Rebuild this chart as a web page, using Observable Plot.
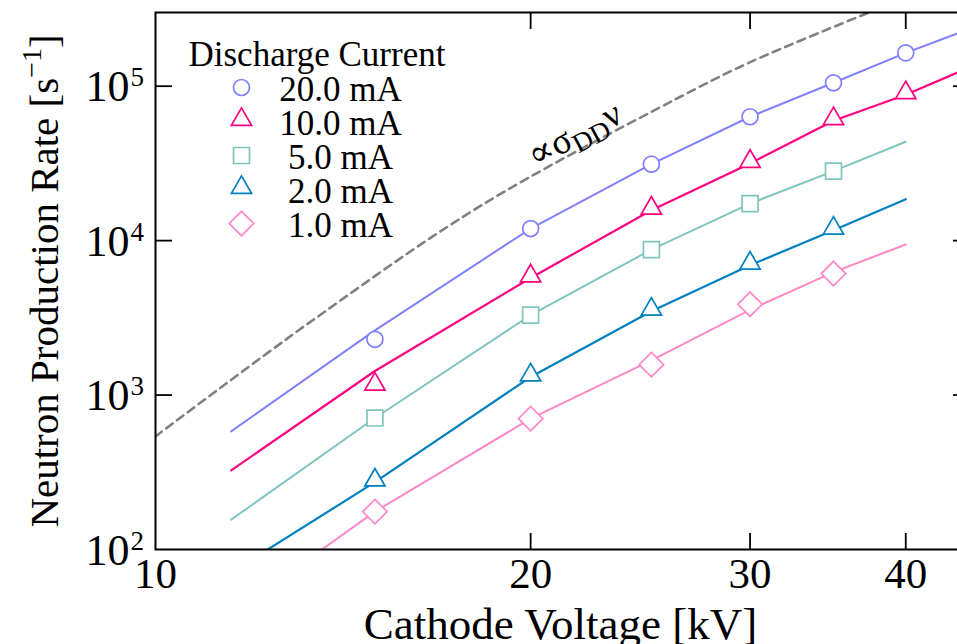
<!DOCTYPE html>
<html>
<head>
<meta charset="utf-8">
<script src="https://cdn.jsdelivr.net/npm/d3@7"></script>
<script src="https://cdn.jsdelivr.net/npm/@observablehq/plot@0.6"></script>
<style>
html, body { margin: 0; padding: 0; background: #ffffff; overflow: hidden; }
</style>
</head>
<body>
<div id="chart"></div>
<script>
// ---- data ----
const markerVoltages = [15, 20, 25, 30, 35, 40];          // kV
const lineVoltages   = [11.5, 15, 20, 25, 30, 35, 40, 45]; // kV

const currents = ["20.0 mA", "10.0 mA", "5.0 mA", "2.0 mA", "1.0 mA"];
const colors   = ["#8080ff", "#ff0080", "#80c4c0", "#0080c0", "#ff88c4"];
const symbols  = ["circle", "triangle", "square", "triangle", "diamond2"];

// measured neutron rates [1/s] (markers)
const marker20 = [2296, 11970, 31270, 63400, 105200, 164400];
const marker10 = [1140, 5730, 15740, 31600, 59700, 87900];
const marker5  = [710, 3290, 8750, 17380, 28180];
const marker2  = [273, 1309, 3485, 6930, 11670];
const marker1  = [176, 703, 1574, 3873, 6122];

// model curves [1/s] (solid lines) at lineVoltages
const line20 = [582, 2625, 11970, 31270, 63400, 105200, 164400, 234700];
const line10 = [325, 1432, 5730, 15740, 31600, 59700, 87900, 132500];
const line5  = [156, 710, 3290, 8750, 17380, 28180, 43670];
const line2  = [71, 273, 1309, 3485, 6930, 11670, 18530];
const line1  = [38, 176, 703, 1679, 3566, 6250, 9440];

// dashed curve proportional to sigma_DD * v
const sigmaVoltages = [10, 13.37, 18.24, 26.07, 29.87, 37.36, 40];
const sigmaRates    = [540, 3050, 16830, 81300, 140600, 300000, 375000];

// axis ticks
const xTickLabels = [10, 20, 30, 40];
const xInnerTicks = [20, 30, 40];
const yTickLabels = [1e2, 1e3, 1e4, 1e5];
const yInnerTicks = [1e3, 1e4, 1e5];

const xTitle = "Cathode Voltage [kV]";
const yTitle = "Neutron Production Rate [s\u207B\u00B9]";
const legendTitle = "Discharge Current";
const sigmaLabel = "\u221D\u03C3DD\u03BD";

// ---- build tables ----
const markerSets = [marker20, marker10, marker5, marker2, marker1];
const lineSets = [line20, line10, line5, line2, line1];
const markers = markerSets.flatMap((vals, s) => vals.map((v, i) => ({kV: markerVoltages[i], rate: v, s})));
const lines = lineSets.flatMap((vals, s) => vals.map((v, i) => ({kV: lineVoltages[i], rate: v, s})));
const sigma = sigmaVoltages.map((kV, i) => ({kV, rate: sigmaRates[i]}));

const markerR = {circle: 8, triangle: 7.5, square: 9, diamond2: 11};
const serif = "'Liberation Serif', 'Times New Roman', 'DejaVu Serif', serif";

const marks = [];

// dashed sigma curve
marks.push(Plot.line(sigma, {x: "kV", y: "rate", stroke: "#808080", strokeWidth: 2.6,
  strokeDasharray: "8,5.5", curve: "catmull-rom", clip: true}));

// model lines
lineSets.forEach((_, s) => {
  marks.push(Plot.line(lines.filter(d => d.s === s), {x: "kV", y: "rate", stroke: colors[s],
    strokeWidth: (s === 1 || s === 3) ? 2.2 : 2, clip: true}));
});

// markers
markerSets.forEach((_, s) => {
  marks.push(Plot.dot(markers.filter(d => d.s === s), {x: "kV", y: "rate", symbol: () => symbols[s],
    r: markerR[symbols[s]], stroke: colors[s], fill: "white", strokeWidth: 1.7,
    dy: symbols[s] === "triangle" ? -2 : 0}));
});

// frame + inward ticks
marks.push(Plot.frame({stroke: "black", strokeWidth: 2}));
marks.push(Plot.axisX(xInnerTicks, {anchor: "bottom", tickSize: 16, dy: -16, tickFormat: () => "", label: null, strokeWidth: 1.8}));
marks.push(Plot.axisX(xInnerTicks, {anchor: "top", tickSize: 16, dy: 16, tickFormat: () => "", label: null, strokeWidth: 1.8}));
marks.push(Plot.axisY(yInnerTicks, {anchor: "left", tickSize: 17, dx: 17, tickFormat: () => "", label: null, strokeWidth: 1.8}));
marks.push(Plot.axisY(yInnerTicks, {anchor: "right", tickSize: 17, dx: -17, tickFormat: () => "", label: null, strokeWidth: 1.8}));

// tick labels
marks.push(Plot.text(xTickLabels, {x: d => d, text: d => String(d), frameAnchor: "bottom",
  textAnchor: "middle", lineAnchor: "bottom", dy: 38, fontSize: 43, fill: "black"}));
marks.push(Plot.text(yTickLabels, {y: d => d, text: () => "10", frameAnchor: "left",
  textAnchor: "end", lineAnchor: "bottom", dx: -26, dy: 15, fontSize: 44, fill: "black"}));
marks.push(Plot.text(yTickLabels, {y: d => d, text: d => String(Math.round(Math.log10(d))), frameAnchor: "left",
  textAnchor: "start", lineAnchor: "bottom", dx: -25, dy: 0, fontSize: 27, fill: "black"}));

// axis titles
marks.push(Plot.text([xTitle], {text: d => d, frameAnchor: "bottom", textAnchor: "middle", lineAnchor: "bottom", dx: -2, dy: 89, fontSize: 45, fill: "black"}));
marks.push(Plot.text([yTitle], {text: d => d, frameAnchor: "left", textAnchor: "middle", lineAnchor: "bottom", rotate: -90, dx: -98, fontSize: 41, fill: "black"}));

// sigma annotation
marks.push(Plot.text([sigmaLabel], {text: d => d, frameAnchor: "top-left", dx: 380, dy: 156, rotate: -28,
  textAnchor: "start", lineAnchor: "bottom", fontSize: 37, fill: "black"}));

// legend
marks.push(Plot.text([legendTitle], {text: d => d, frameAnchor: "top-left", dx: 33, dy: 53,
  textAnchor: "start", lineAnchor: "bottom", fontSize: 35, fill: "black"}));
currents.forEach((c, i) => {
  marks.push(Plot.dot([c], {frameAnchor: "top-left", dx: 86, dy: 75 + i * 34 + (symbols[i] === "triangle" ? -2 : 0),
    symbol: () => symbols[i], r: markerR[symbols[i]], stroke: colors[i], fill: "white", strokeWidth: 1.7}));
  marks.push(Plot.text([c], {text: d => d, frameAnchor: "top-left", dx: 185, dy: 75 + i * 34 + 13,
    textAnchor: "middle", lineAnchor: "bottom", fontSize: 35, fill: "black"}));
});

const chart = Plot.plot({
  width: 957,
  height: 644,
  marginLeft: 155,
  marginTop: 12,
  marginBottom: 95,
  marginRight: -12,
  x: {type: "log", domain: [10, 45], label: null},
  y: {type: "log", domain: [100, 3e5], label: null},
  style: {fontFamily: serif, color: "black", background: "white"},
  marks
});

// rich text (superscripts / subscripts) inside the Plot-generated text elements
const SVGNS = "http://www.w3.org/2000/svg";
function rich(el, parts) {
  el.textContent = "";
  for (const p of parts) {
    const ts = document.createElementNS(SVGNS, "tspan");
    ts.textContent = p.text;
    if (p.size) ts.setAttribute("font-size", p.size);
    if (p.dy) ts.setAttribute("dy", p.dy);
    el.appendChild(ts);
  }
}
chart.querySelectorAll("text").forEach(t => {
  if (t.textContent === yTitle) {
    rich(t, [{text: "Neutron Production Rate [s"}, {text: "\u22121", size: 28, dy: -17}, {text: "]", dy: 17}]);
  } else if (t.textContent === sigmaLabel) {
    rich(t, [{text: "\u221D\u03C3"}, {text: "DD", size: 27, dy: 7}, {text: "\u03BD", size: 37, dy: -7}]);
  }
});

document.getElementById("chart").appendChild(chart);
</script>
</body>
</html>
